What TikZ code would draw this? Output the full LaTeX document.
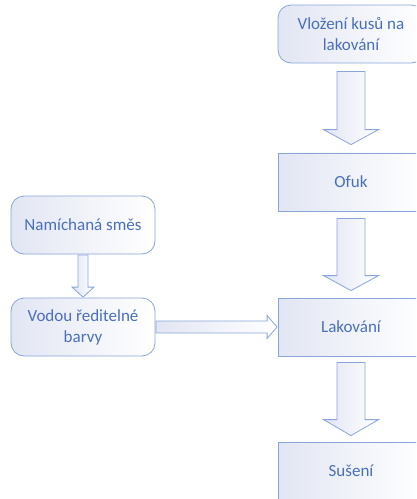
\documentclass[tikz,border=0pt]{standalone}
\usepackage{fontspec}
\setmainfont{Carlito}
\usetikzlibrary{calc}
\definecolor{bordc}{HTML}{8AA5DA}
\definecolor{txtc}{HTML}{4A6FBF}
\definecolor{fillc}{HTML}{E2E6F3}
\tikzset{
  boxbase/.style={draw=bordc, line width=0.8pt, left color=fillc, right color=white,
    minimum width=146pt, minimum height=58pt, align=center, text=txtc,
    font=\fontsize{17}{21}\selectfont, inner sep=2pt},
  roundbox/.style={boxbase, rounded corners=13pt},
  sqbox/.style={boxbase},
  leftbox/.style={roundbox, minimum width=144pt},
  blockarrow/.style={draw=bordc, line width=0.8pt, left color=fillc, right color=white}
}
% from, to, half shaft, half head, head length, gap
\newcommand{\blockdown}[6]{%
  \path[blockarrow] ($(#1.south)+(-#3,#6)$) -- ($(#1.south)+(#3,#6)$)
    -- ($(#2.north)+(#3,-#6-#5)$) -- ($(#2.north)+(#4,-#6-#5)$)
    -- ($(#2.north)+(0,-#6)$) -- ($(#2.north)+(-#4,-#6-#5)$)
    -- ($(#2.north)+(-#3,-#6-#5)$) -- cycle;}
\newcommand{\blockright}[6]{%
  \path[blockarrow] ($(#1.east)+(#6,-#3)$) -- ($(#1.east)+(#6,#3)$)
    -- ($(#2.west)+(-#6-#5,#3)$) -- ($(#2.west)+(-#6-#5,#4)$)
    -- ($(#2.west)+(-#6,0)$) -- ($(#2.west)+(-#6-#5,-#4)$)
    -- ($(#2.west)+(-#6-#5,-#3)$) -- cycle;}
\begin{document}
\begin{tikzpicture}[x=1pt,y=-1pt]
\useasboundingbox (0,0) rectangle (416,499);
\clip (0,0) rectangle (416,499);
\node[roundbox] (vloz) at (351,34) {Vložení kusů na\\lakování};
\node[sqbox] (ofuk) at (351,182) {Ofuk};
\node[sqbox] (lak) at (351,327) {Lakování};
\node[sqbox] (sus) at (351,471) {Sušení};
\node[leftbox] (mix) at (83,225) {Namíchaná směs};
\node[leftbox] (vod) at (83,327) {Vodou ředitelné\\barvy};
\blockdown{vloz}{ofuk}{14}{27.5}{15}{8}
\blockdown{ofuk}{lak}{14}{27.5}{15}{7}
\blockdown{lak}{sus}{14}{27.5}{16}{6}
\blockdown{mix}{vod}{5}{11}{10}{0.5}
\blockright{vod}{lak}{6}{11.5}{10}{0.5}
\end{tikzpicture}
\end{document}
